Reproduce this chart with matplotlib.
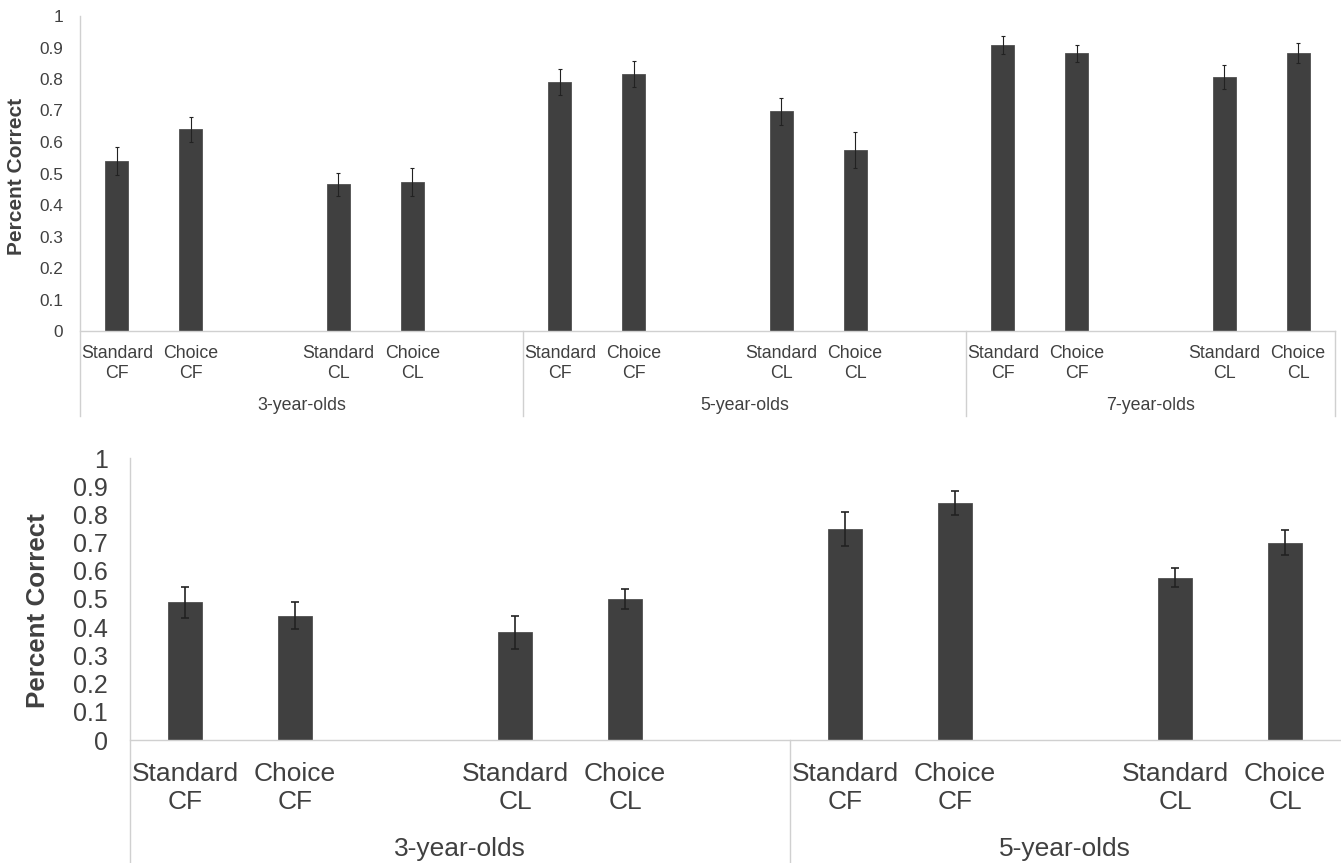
import numpy as np
import matplotlib.pyplot as plt

plt.rcParams['font.family'] = ['Liberation Sans', 'DejaVu Sans']

# upper chart: three age groups
top_groups = ['3-year-olds', '5-year-olds', '7-year-olds']
top_labels = ['Standard\nCF', 'Choice\nCF', 'Standard\nCL', 'Choice\nCL'] * 3
top_means = [0.540, 0.640, 0.466, 0.473,
             0.790, 0.815, 0.697, 0.574,
             0.907, 0.882, 0.806, 0.882]
top_err = [0.045, 0.040, 0.036, 0.045,
           0.041, 0.041, 0.044, 0.058,
           0.029, 0.027, 0.037, 0.031]

# lower chart: two age groups
bot_groups = ['3-year-olds', '5-year-olds']
bot_labels = ['Standard\nCF', 'Choice\nCF', 'Standard\nCL', 'Choice\nCL'] * 2
bot_means = [0.488, 0.441, 0.382, 0.500,
             0.749, 0.840, 0.576, 0.700]
bot_err = [0.054, 0.047, 0.059, 0.034,
           0.060, 0.042, 0.033, 0.045]

bar_col = '#404040'
line_col = '#d0d0d0'
txt_col = '#404040'


def slot_positions(n_groups):
    # each group: CF pair, empty slot, CL pair, empty slot (last group has no trailing gap)
    pos = []
    for g in range(n_groups):
        base = g * 6
        pos += [base, base + 1, base + 3, base + 4]
    return np.array(pos)


def draw(ax, groups, labels, means, err, fs_tick, fs_cat, fs_lab, lw_err, cap,
         line_bottom, group_y, label_x, label_y, ytick_pad, xtick_pad, xmax,
         right_line, linesp):
    x = slot_positions(len(groups))
    ax.bar(x, means, width=0.31, color=bar_col, edgecolor='#505050', linewidth=0.6,
           zorder=2)
    ax.errorbar(x, means, yerr=err, fmt='none', ecolor='#222222', elinewidth=lw_err,
                capsize=cap, capthick=lw_err, zorder=3)

    ax.set_xlim(-0.5, xmax)
    ax.set_ylim(0, 1)
    ax.set_yticks(np.arange(0, 1.01, 0.1))
    ax.set_yticklabels(['0'] + ['%.1f' % v for v in np.arange(0.1, 0.95, 0.1)] + ['1'])
    ax.set_xticks(x)
    ax.set_xticklabels(labels, fontsize=fs_cat, color=txt_col, linespacing=linesp)
    ax.tick_params(axis='x', length=0, pad=xtick_pad)
    ax.tick_params(axis='y', length=0, pad=ytick_pad, labelsize=fs_tick,
                   labelcolor=txt_col)

    for s in ['top', 'right']:
        ax.spines[s].set_visible(False)
    ax.spines['left'].set_visible(False)
    ax.spines['bottom'].set_color(line_col)
    ax.spines['bottom'].set_linewidth(1.0)

    tr = ax.get_xaxis_transform()
    # axis line plus the group dividers below the baseline
    ax.plot([-0.5, -0.5], [line_bottom, 1.0], color=line_col, lw=1.0,
            transform=tr, clip_on=False)
    dividers = [g * 6 - 0.5 for g in range(1, len(groups))]
    if right_line:
        dividers.append(xmax)
    for d in dividers:
        ax.plot([d, d], [line_bottom, 0], color=line_col, lw=1.0,
                transform=tr, clip_on=False)

    # group names centred under each block
    edges = [-0.5] + [g * 6 - 0.5 for g in range(1, len(groups))] + [xmax]
    for i, name in enumerate(groups):
        ax.text((edges[i] + edges[i + 1]) / 2, group_y, name, transform=tr,
                ha='center', va='center', fontsize=fs_cat, color=txt_col)

    ax.set_ylabel('Percent Correct', fontsize=fs_lab, fontweight='bold',
                  color=txt_col)
    ax.yaxis.set_label_coords(label_x, label_y)


fig = plt.figure(figsize=(13.41, 8.63), dpi=100)

ax1 = fig.add_axes([80 / 1341, (863 - 331) / 863, 1255 / 1341, 315 / 863])
draw(ax1, top_groups, top_labels, top_means, top_err,
     fs_tick=12.4, fs_cat=12.8, fs_lab=15, lw_err=0.8, cap=1.5,
     line_bottom=-0.27, group_y=-0.235, label_x=-0.043, label_y=0.49,
     ytick_pad=12, xtick_pad=10, xmax=16.5, right_line=True, linesp=1.25)

ax2 = fig.add_axes([130 / 1341, (863 - 740) / 863, 1210 / 1341, 282 / 863])
draw(ax2, bot_groups, bot_labels, bot_means, bot_err,
     fs_tick=18, fs_cat=19, fs_lab=18.7, lw_err=1.2, cap=3,
     line_bottom=-0.44, group_y=-0.386, label_x=-0.066, label_y=0.46,
     ytick_pad=16, xtick_pad=16, xmax=10.5, right_line=False, linesp=1.2)

fig.savefig('out.png', dpi=100)
